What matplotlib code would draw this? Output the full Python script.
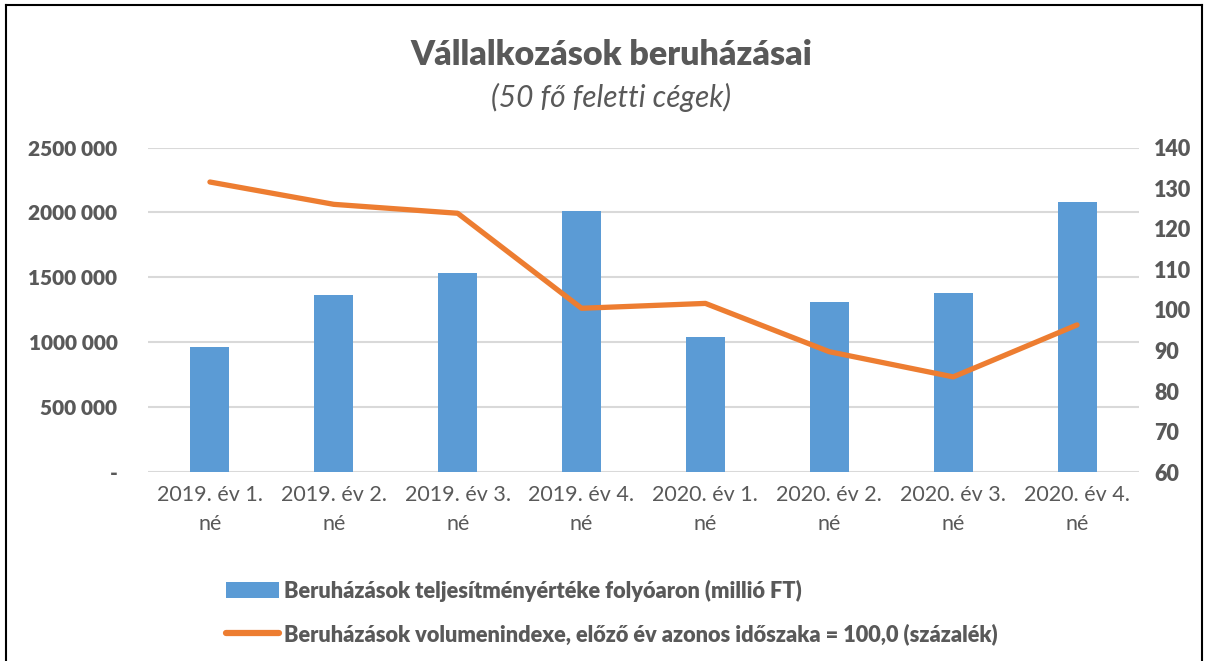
import matplotlib.pyplot as plt
from matplotlib.lines import Line2D
from matplotlib.patches import Patch
from matplotlib.ticker import FuncFormatter
import numpy as np

# data
quarters = ["2019. év 1.\nné", "2019. év 2.\nné", "2019. év 3.\nné", "2019. év 4.\nné",
            "2020. év 1.\nné", "2020. év 2.\nné", "2020. év 3.\nné", "2020. év 4.\nné"]
investment = [961000, 1364000, 1535000, 2012000, 1043000, 1312000, 1377000, 2079000]
volume_index = [131.5, 126.0, 123.8, 100.4, 101.6, 89.7, 83.5, 96.3]

bar_label = "Beruházások teljesítményértéke folyóaron (millió FT)"
line_label = "Beruházások volumenindexe, előző év azonos időszaka = 100,0 (százalék)"

BLUE = "#5B9BD5"
ORANGE = "#ED7D31"
GRAY = "#595959"
GRID = "#D9D9D9"

plt.rcParams['font.family'] = ['Lato', 'DejaVu Sans']

fig = plt.figure(figsize=(12.06, 6.61), dpi=100)
ax = fig.add_axes([148 / 1206, 1 - 472.3 / 661, (1139 - 148) / 1206, (472.3 - 147.5) / 661])

x = np.arange(len(quarters))
ax.bar(x, investment, width=0.315, color=BLUE, zorder=2)
ax.set_xlim(-0.5, len(quarters) - 0.5)
ax.set_ylim(0, 2500000)
ax.set_yticks(np.arange(0, 2500001, 500000))


def fmt_left(v, pos):
    if v == 0:
        return "-"
    s = f"{int(v):,}".replace(",", " ")
    # Excel style: thousands only separated once
    parts = s.split(" ")
    if len(parts) > 2:
        s = "".join(parts[:-1]) + " " + parts[-1]
    return s


ax.yaxis.set_major_formatter(FuncFormatter(fmt_left))
ax.grid(axis='y', color=GRID, linewidth=1.5, zorder=0)
ax.set_axisbelow(True)
for sp in ax.spines.values():
    sp.set_visible(False)
ax.tick_params(axis='both', length=0)
ax.tick_params(axis='y', labelsize=15, labelcolor=GRAY, pad=22)
for t in ax.get_yticklabels():
    t.set_fontweight('heavy')
ax.set_xticks(x)
ax.set_xticklabels(quarters, fontsize=15.5, color=GRAY, linespacing=1.6)
ax.tick_params(axis='x', pad=9)

ax2 = ax.twinx()
ax2.plot(x, volume_index, color=ORANGE, linewidth=3.8, solid_capstyle='round',
         solid_joinstyle='round', zorder=3)
ax2.set_ylim(60, 140)
ax2.set_yticks(np.arange(60, 141, 10))
for sp in ax2.spines.values():
    sp.set_visible(False)
ax2.tick_params(axis='y', length=0, labelsize=15.5, labelcolor=GRAY, pad=11)
for t in ax2.get_yticklabels():
    t.set_fontweight('heavy')

fig.text(0.507, 1 - 55 / 661, "Vállalkozások beruházásai", ha='center', va='center',
         fontsize=24.5, fontweight='heavy', color=GRAY)
fig.text(0.507, 1 - 97 / 661, "(50 fő feletti cégek)", ha='center', va='center',
         fontsize=21.5, fontstyle='italic', color=GRAY)

handles = [Patch(facecolor=BLUE, edgecolor='none'),
           Line2D([0], [0], color=ORANGE, linewidth=4.5, solid_capstyle='round')]
leg = fig.legend(handles, [bar_label, line_label], loc='upper left',
                 bbox_to_anchor=(206 / 1206, 1 - 560 / 661), frameon=False,
                 prop={'size': 15.7, 'weight': 'heavy'}, handlelength=2.45,
                 handletextpad=0.25, labelspacing=0.97)
for t in leg.get_texts():
    t.set_color(GRAY)

# outer frame of the chart
fig.add_artist(Line2D([6 / 1206, 6 / 1206], [0, 1 - 5 / 661], transform=fig.transFigure,
                      color='black', linewidth=1.5))
fig.add_artist(Line2D([6 / 1206, 1202 / 1206], [1 - 5 / 661, 1 - 5 / 661],
                      transform=fig.transFigure, color='black', linewidth=1.5))
fig.add_artist(Line2D([1202 / 1206, 1202 / 1206], [0, 1 - 5 / 661], transform=fig.transFigure,
                      color='black', linewidth=1.5))

fig.savefig("out.png", dpi=100)
